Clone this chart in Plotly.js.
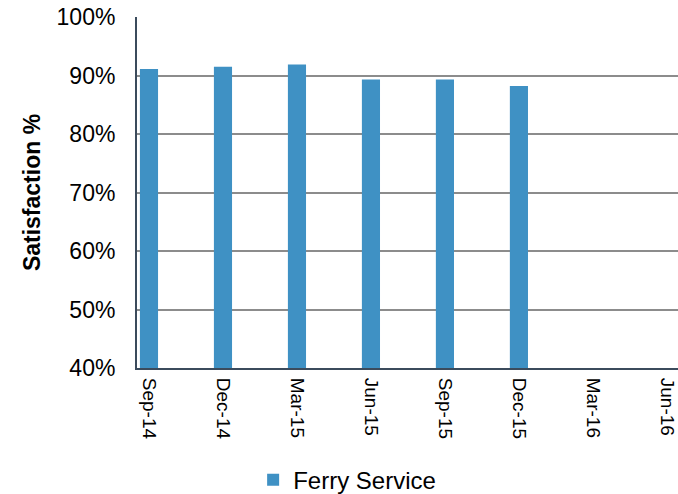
<!DOCTYPE html>
<html>
<head>
<meta charset="utf-8">
<script src="https://cdn.plot.ly/plotly-3.0.1.min.js"></script>
<style>
  html, body { margin: 0; padding: 0; background: #ffffff; }
  #chart { width: 678px; height: 494px; }
</style>
</head>
<body>
<div id="chart"></div>
<script>
const categories = ["Sep-14", "Dec-14", "Mar-15", "Jun-15", "Sep-15", "Dec-15", "Mar-16", "Jun-16"];
const ferryService = [0.911, 0.915, 0.919, 0.893, 0.893, 0.882, null, null];
const seriesName = "Ferry Service";

const trace = {
  type: "bar",
  x: categories,
  y: ferryService,
  name: seriesName,
  width: 0.245,
  marker: { color: "#3f91c4" },
  hoverinfo: "x+y"
};

const layout = {
  width: 678,
  height: 494,
  margin: { l: 137, r: 0, t: 17, b: 126, pad: 0 },
  paper_bgcolor: "#ffffff",
  plot_bgcolor: "#ffffff",
  font: { family: "Liberation Sans, Arial, sans-serif", color: "#000000" },
  showlegend: true,
  legend: {
    orientation: "h",
    xref: "container",
    yref: "container",
    x: 0.512, xanchor: "center",
    y: 0.028, yanchor: "middle",
    font: { size: 24, color: "#000000" },
    bgcolor: "rgba(0,0,0,0)"
  },
  xaxis: {
    type: "category",
    range: [-0.162, 7.15],
    tickangle: 90,
    tickfont: { size: 19, color: "#000000" },
    showgrid: false,
    showline: true,
    linecolor: "#3b4b5c",
    linewidth: 2,
    ticks: "",
    ticklabelstandoff: 4,
    automargin: false,
    fixedrange: true
  },
  yaxis: {
    range: [0.4, 1.0],
    dtick: 0.1,
    tick0: 0.4,
    tickformat: ".0%",
    tickfont: { size: 23, color: "#000000" },
    showgrid: true,
    gridcolor: "#8c8c8c",
    gridwidth: 2,
    zeroline: false,
    showline: true,
    linecolor: "#3b4b5c",
    linewidth: 2,
    ticks: "",
    ticklabelstandoff: 15,
    automargin: false,
    title: {
      text: "<b>Satisfaction %</b>",
      font: { size: 23, color: "#000000" },
      standoff: 10
    },
    fixedrange: true
  }
};

Plotly.newPlot("chart", [trace], layout, { displayModeBar: false, staticPlot: true });
</script>
</body>
</html>
